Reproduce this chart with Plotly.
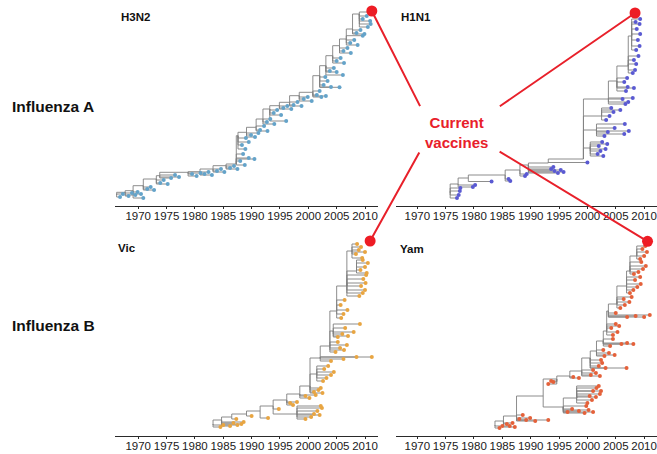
import plotly.graph_objects as go

# ---------------- data (years on x, vertical tip position on y) ----------------
tick_years = [1970, 1975, 1980, 1985, 1990, 1995, 2000, 2005, 2010]
tick_labels = ["1970", "1975", "1980", "1985", "1990", "1995", "2000", "2005", "2010"]

# H3N2
h3_node_year = [1966.2, 1967.7, 1969.1, 1970.9, 1973.2, 1973.8, 1978.8, 1980.9, 1983.2, 1985.5, 1987.3,
                1987.6, 1989.1, 1990.8, 1992.0, 1993.2, 1994.9, 1996.7, 1998.4, 2000.8, 2002.0, 2003.1,
                2004.3, 2005.5, 2006.7, 2007.8, 2009.0]
h3_node_pos = [11, 13.7, 15.3, 20.3, 27, 30.3, 33.7, 34.3, 37, 40.3, 42, 70.3, 73.7, 78.7, 87, 97, 100.3,
               103.7, 110.3, 113.7, 130.3, 140.3, 150.3, 160.3, 167, 177, 192]
h3_node_parent = [-1, 0, 1, 2, 3, 4, 5, 6, 7, 8, 9, 10, 11, 12, 13, 14, 15, 16, 17, 18, 19, 20, 21, 22, 23, 24, 25]
h3_tip_year = [1966.8, 1967.3,
               1968.3, 1968.9, 1969.5,
               1969.9, 1970.5, 1970.9,
               1971.6, 1972.2, 1972.8,
               1973.9, 1974.5, 1975.2,
               1975.8, 1976.5, 1977.2,
               1979.5, 1980.3, 1981.0,
               1981.7, 1982.4, 1983.0,
               1983.9, 1984.6, 1985.2,
               1986.2, 1986.9, 1987.5,
               1988.0, 1988.8, 1989.5, 1990.5, 1988.5,
               1988.3, 1988.9, 1989.5, 1989.0,
               1989.9, 1990.6, 1991.2,
               1991.5, 1992.2, 1992.8,
               1992.7, 1993.3, 1994.0,
               1993.9, 1994.5, 1995.2, 1996.1,
               1995.6, 1996.3, 1997.0,
               1997.4, 1998.1, 1998.8,
               1999.2, 1999.9, 2000.6,
               2001.5, 2002.3, 2003.1, 2002.0,
               2002.7, 2003.4, 2004.0, 2005.5, 2003.0,
               2003.8, 2004.5, 2006.1, 2005.0,
               2005.0, 2005.7, 2006.3,
               2006.2, 2006.9, 2007.5,
               2007.4, 2008.1, 2008.7, 2009.6,
               2008.5, 2009.2, 2009.9,
               2009.6, 2010.3, 2010.9, 2011.0, 2010.5, 2010.8]
h3_tip_pos = [9, 12,
              10, 13, 11,
              14, 12, 8,
              17, 19, 16,
              23, 26, 22,
              28, 31, 29,
              32, 30, 33,
              32, 34, 31,
              35, 37, 34,
              38, 40, 37,
              45, 41, 48, 47, 52,
              61, 57, 64, 68,
              71, 69, 73,
              76, 80, 75,
              84, 87, 82,
              93, 96, 91, 85,
              98, 100, 97,
              101, 104, 100,
              107, 109, 105,
              111, 109, 110, 115,
              121, 125, 119, 118.7, 129,
              135, 138, 131, 134,
              145, 148, 143,
              155, 158, 153,
              163, 166, 161, 170.3,
              173, 176, 172,
              187, 190, 185, 182, 179, 194]
h3_tip_parent = [0, 0,
                 1, 1, 1,
                 2, 2, 2,
                 3, 3, 3,
                 4, 4, 4,
                 5, 5, 5,
                 6, 6, 6,
                 7, 7, 7,
                 8, 8, 8,
                 9, 9, 9,
                 10, 10, 10, 10, 10,
                 11, 11, 11, 11,
                 12, 12, 12,
                 13, 13, 13,
                 14, 14, 14,
                 15, 15, 15, 15,
                 16, 16, 16,
                 17, 17, 17,
                 18, 18, 18,
                 19, 19, 19, 19,
                 20, 20, 20, 20, 20,
                 21, 21, 21, 21,
                 22, 22, 22,
                 23, 23, 23,
                 24, 24, 24, 24,
                 25, 25, 25,
                 26, 26, 26, 26, 26, 26]
h3_vaccine = (2011.2, 195)

# H1N1
h1_node_year = [1975.8, 1977.2, 1979.0, 1985.5, 1988.1, 1989.6, 1993.1, 1999.3, 2000.5, 2001.6, 2002.5,
                2003.7, 2005.2, 2007.2, 2007.8]
h1_node_pos = [13, 22, 28, 31, 36, 41, 43, 47, 58, 76, 90, 107, 125, 140, 170]
h1_node_parent = [-1, 0, 1, 2, 3, 4, 5, 6, 7, 7, 7, 7, 11, 12, 13]
h1_tip_year = [1977.0, 1977.3, 1977.5, 1977.6,
               1980.2, 1979.8,
               1983.1,
               1986.1, 1986.4,
               1989.0, 1989.3,
               1993.6, 1994.2, 1994.8, 1995.3, 1995.8, 1994.0,
               2000.0,
               2001.8, 2002.3, 2002.8, 2003.2, 2002.0, 2003.5, 2002.6,
               2003.0, 2003.6, 2004.8, 2006.6, 2007.3, 2006.5,
               2003.3, 2003.9, 2004.6, 2005.8, 2004.2,
               2006.2, 2008.0, 2006.7, 2007.2,
               2006.8, 2007.1, 2008.2, 2006.5, 2007.0,
               2008.0, 2008.4, 2008.6, 2008.2, 2009.0,
               2008.6, 2009.2, 2008.9, 2009.3, 2008.7, 2009.2, 2009.3, 2008.5]
h1_tip_pos = [8, 11, 15, 18,
              21, 19,
              24.5,
              27, 25,
              30, 32,
              37, 35, 33, 36, 34, 39,
              43.5,
              52, 55, 50, 57, 60, 62, 64,
              70, 74, 78, 82, 75, 72,
              86, 90, 94, 96, 98,
              107, 108, 102, 104,
              115, 119, 118, 124, 128,
              133, 136, 142, 146, 150,
              156, 160, 166, 172, 177, 182, 187, 184]
h1_tip_parent = [0, 0, 0, 0,
                 1, 1,
                 2,
                 3, 3,
                 4, 4,
                 5, 5, 5, 5, 5, 5,
                 6,
                 8, 8, 8, 8, 8, 8, 8,
                 9, 9, 9, 9, 9, 9,
                 10, 10, 10, 10, 10,
                 11, 11, 11, 11,
                 12, 12, 12, 12, 12,
                 13, 13, 13, 13, 13,
                 14, 14, 14, 14, 14, 14, 14, 14]
h1_vaccine = (2008.4, 193)

# B / Victoria
vic_node_year = [1983.2, 1984.7, 1986.5, 1989.1, 1991.5, 1993.8, 1996.2, 1998.0, 1998.5, 2000.3, 2001.5,
                 2002.1, 2003.8, 2004.4, 2005.0, 2006.8, 2007.7, 2008.5]
vic_node_pos = [12, 16, 19, 22, 25, 30, 36, 22, 42, 50, 62, 78, 90, 105, 125, 150, 185, 165]
vic_node_parent = [-1, 0, 1, 2, 3, 4, 5, 5, 6, 8, 9, 9, 11, 12, 12, 14, 15, 15]
vic_tip_year = [1984.5, 1985.0,
                1986.2, 1986.8, 1987.5, 1988.2, 1988.6,
                1987.3,
                1990.0,
                1992.9,
                1994.8,
                1996.8, 1997.3, 1998.0,
                2000.5, 2001.0, 2001.6, 2002.0, 2002.4, 2002.2, 1999.5,
                1999.5, 2000.2, 2001.3,
                2001.0, 2001.8, 2002.2, 2002.5,
                2002.6, 2003.2, 2004.0, 2004.5, 2002.8, 2003.5,
                2006.2, 2008.5, 2011.2, 2004.0,
                2004.8, 2005.6, 2006.3, 2006.8, 2005.2,
                2005.2, 2006.0, 2007.0, 2008.0, 2009.1, 2006.5,
                2005.8, 2006.2, 2006.9, 2005.7, 2006.4,
                2009.0, 2009.6, 2010.0, 2009.3, 2010.1, 2009.7, 2010.2,
                2009.2, 2010.0, 2010.5, 2009.6, 2010.3,
                2008.4, 2008.9, 2009.3, 2008.6, 2009.5, 2010.0]
vic_tip_pos = [9, 11,
               10, 13, 11, 12, 14,
               17,
               20,
               18,
               27,
               33, 31, 34,
               19, 22, 25, 21, 28, 30, 17,
               40, 38, 41,
               44, 46, 48, 43,
               55, 58, 61, 64, 67, 70,
               77, 79, 79, 75,
               84, 88, 86, 91, 94,
               99, 102, 100, 104, 112, 108,
               118, 122, 126, 131, 136,
               140, 143, 146, 150, 153, 157, 161,
               166, 169, 173, 176, 163,
               182, 186, 189, 192, 178, 184]
vic_tip_parent = [0, 0,
                  1, 1, 1, 1, 1,
                  2,
                  3,
                  4,
                  5,
                  6, 6, 6,
                  7, 7, 7, 7, 7, 7, 7,
                  8, 8, 8,
                  9, 9, 9, 9,
                  10, 10, 10, 10, 10, 10,
                  11, 11, 11, 11,
                  12, 12, 12, 12, 12,
                  13, 13, 13, 13, 13, 13,
                  14, 14, 14, 14, 14,
                  15, 15, 15, 15, 15, 15, 15,
                  17, 17, 17, 17, 17,
                  16, 16, 16, 16, 16, 16]
vic_vaccine = (2010.9, 195)

# B / Yamagata
yam_node_year = [1983.7, 1985.2, 1987.5, 1992.2, 1995.75, 1998.1, 1994.6, 1996.9, 1999.0, 2000.5, 2001.6,
                 2002.8, 2003.4, 2003.7, 2005.2, 2006.9, 2007.5, 2008.7]
yam_node_pos = [11, 15, 20, 40, 29, 38, 57, 60, 65, 78, 85, 95, 105, 125, 132, 150, 165, 180]
yam_node_parent = [-1, 0, 1, 2, 3, 4, 3, 6, 7, 8, 9, 10, 11, 12, 13, 14, 15, 16]
yam_tip_year = [1984.5, 1985.0,
                1985.8, 1986.3, 1986.8, 1987.2,
                1988.0, 1989.2, 1989.9, 1990.8, 1993.1, 1988.6,
                1996.5, 1997.3, 1998.5, 1999.5, 2000.2, 2001.0, 1999.8,
                2000.0, 2000.8, 2001.5, 2002.2, 2001.0, 2001.6, 2002.0, 2002.4, 2000.4,
                1993.1, 1994.0, 1993.6,
                1998.5, 1997.5,
                2000.6, 2001.5, 2002.2, 2001.0,
                2002.0, 2002.6, 2003.2, 2006.9, 2002.4,
                2003.0, 2003.8, 2004.8, 2002.8,
                2006.0, 2007.0, 2008.1, 2004.0, 2004.5,
                2004.5, 2005.3, 2004.2, 2005.0, 2005.6,
                2007.0, 2008.5, 2011.0, 2010.0, 2005.0,
                2005.8, 2006.6, 2007.4, 2006.4, 2007.8,
                2007.5, 2008.1, 2008.8, 2009.4, 2008.4, 2009.3,
                2008.2, 2009.0, 2009.8, 2010.3, 2009.5,
                2009.3, 2010.0, 2010.5, 2009.7, 2010.2]
yam_tip_pos = [8, 10,
               12, 10, 13, 9,
               17, 16, 18, 15, 16, 21,
               24, 27, 25, 23, 26, 24, 30,
               33, 36, 39, 42, 45, 48, 50, 45, 40,
               52, 54, 55,
               58, 59,
               61, 63, 60, 66,
               70, 73, 68, 68, 76,
               80, 83, 81, 86,
               92, 93, 92, 90, 97,
               101, 104, 108, 112, 110,
               119, 120, 121, 119, 123,
               128, 131, 134, 137, 139,
               143, 146, 149, 152, 156, 159,
               162, 164, 167, 170, 174,
               177, 180, 184, 187, 190]
yam_tip_parent = [0, 0,
                  1, 1, 1, 1,
                  2, 2, 2, 2, 2, 2,
                  4, 4, 4, 4, 4, 4, 4,
                  5, 5, 5, 5, 5, 5, 5, 5, 5,
                  6, 6, 6,
                  7, 7,
                  8, 8, 8, 8,
                  9, 9, 9, 9, 9,
                  10, 10, 10, 10,
                  11, 11, 11, 11, 11,
                  12, 12, 12, 12, 12,
                  13, 13, 13, 13, 13,
                  14, 14, 14, 14, 14,
                  15, 15, 15, 15, 15, 15,
                  16, 16, 16, 16, 16,
                  17, 17, 17, 17, 17]
yam_vaccine = (2010.6, 194.7)

panel_names = ["H3N2", "H1N1", "Vic", "Yam"]
tip_colors = ["#64a3c9", "#5a5ad2", "#e8a542", "#e4613a"]

# ---------------- figure ----------------
W, H = 657, 454
FONT = "Liberation Sans, Arial, Helvetica, sans-serif"


def tree_lines(ny, npos, npar, ty, tpos, tpar):
    xs, ys = [], []
    for i, p in enumerate(npar):
        if p < 0:
            continue
        xs += [ny[p], ny[p], ny[i], None]
        ys += [npos[p], npos[i], npos[i], None]
    for i, p in enumerate(tpar):
        xs += [ny[p], ny[p], ty[i], None]
        ys += [npos[p], tpos[i], tpos[i], None]
    return xs, ys


trees = [
    (h3_node_year, h3_node_pos, h3_node_parent, h3_tip_year, h3_tip_pos, h3_tip_parent, h3_vaccine),
    (h1_node_year, h1_node_pos, h1_node_parent, h1_tip_year, h1_tip_pos, h1_tip_parent, h1_vaccine),
    (vic_node_year, vic_node_pos, vic_node_parent, vic_tip_year, vic_tip_pos, vic_tip_parent, vic_vaccine),
    (yam_node_year, yam_node_pos, yam_node_parent, yam_tip_year, yam_tip_pos, yam_tip_parent, yam_vaccine),
]
axis_ids = ["", "2", "3", "4"]

fig = go.Figure()
for k, (ny, npos, npar, ty, tpos, tpar, vac) in enumerate(trees):
    xa, ya = "x" + axis_ids[k], "y" + axis_ids[k]
    lx, ly = tree_lines(ny, npos, npar, ty, tpos, tpar)
    fig.add_trace(go.Scatter(x=lx, y=ly, mode="lines", xaxis=xa, yaxis=ya,
                             line=dict(color="#808080", width=0.9), hoverinfo="skip",
                             showlegend=False, cliponaxis=False))
    fig.add_trace(go.Scatter(x=ty, y=tpos, mode="markers", xaxis=xa, yaxis=ya,
                             marker=dict(color=tip_colors[k], size=4.0, line=dict(width=0)),
                             showlegend=False, cliponaxis=False))
    fig.add_trace(go.Scatter(x=[vac[0]], y=[vac[1]], mode="markers", xaxis=xa, yaxis=ya,
                             marker=dict(color="#ee1c24", size=11, line=dict(width=0)),
                             showlegend=False, cliponaxis=False))

left_dom = [115 / W, 378 / W]
right_dom = [395.5 / W, 1.0]
top_dom = [1 - 206 / H, 1 - 6 / H]
bot_dom = [1 - 436 / H, 1 - 236 / H]
left_rng = [1965.91, 2012.29]
right_rng = [1966.16, 2012.27]

xcommon = dict(tickmode="array", tickvals=tick_years, ticktext=tick_labels, showline=True,
               linecolor="#2a2a2a", linewidth=1.4, ticks="outside", ticklen=2, tickwidth=1.4,
               tickcolor="#2a2a2a", showgrid=False, zeroline=False, ticklabelstandoff=-3,
               tickfont=dict(family=FONT, size=11.5, color="#1a1a1a"), fixedrange=True)
ycommon = dict(visible=False, range=[0, 200], showgrid=False, zeroline=False, fixedrange=True)

fig.update_layout(
    width=W, height=H, margin=dict(l=0, r=0, t=0, b=0),
    paper_bgcolor="white", plot_bgcolor="white", showlegend=False,
    xaxis=dict(domain=left_dom, range=left_rng, anchor="y", **xcommon),
    yaxis=dict(domain=top_dom, anchor="x", **ycommon),
    xaxis2=dict(domain=right_dom, range=right_rng, anchor="y2", **xcommon),
    yaxis2=dict(domain=top_dom, anchor="x2", **ycommon),
    xaxis3=dict(domain=left_dom, range=left_rng, anchor="y3", **xcommon),
    yaxis3=dict(domain=bot_dom, anchor="x3", **ycommon),
    xaxis4=dict(domain=right_dom, range=right_rng, anchor="y4", **xcommon),
    yaxis4=dict(domain=bot_dom, anchor="x4", **ycommon),
)


def px(x):
    return x / W


def py(y):
    return 1 - y / H


annos = []
# panel titles
title_pos = [(119, 17), (399, 17), (116, 248), (398, 249)]
for name, (tx, tyy) in zip(panel_names, title_pos):
    annos.append(dict(text="<b>%s</b>" % name, x=px(tx), y=py(tyy), xref="paper", yref="paper",
                      xanchor="left", yanchor="middle", showarrow=False,
                      font=dict(family=FONT, size=11.5, color="#111111")))
# group labels
annos.append(dict(text="<b>Influenza A</b>", x=px(10), y=py(106), xref="paper", yref="paper",
                  xanchor="left", yanchor="middle", showarrow=False,
                  font=dict(family=FONT, size=15.5, color="#111111")))
annos.append(dict(text="<b>Influenza B</b>", x=px(10), y=py(325), xref="paper", yref="paper",
                  xanchor="left", yanchor="middle", showarrow=False,
                  font=dict(family=FONT, size=15.5, color="#111111")))
annos.append(dict(text="<b>Current<br>vaccines</b>", x=px(456), y=py(133), xref="paper", yref="paper",
                  xanchor="center", yanchor="middle", showarrow=False,
                  font=dict(family=FONT, size=15, color="#e8202a")))
# red connector lines from each vaccine dot
offsets = [(49, 96.6), (-136.7, 94.3), (50, -90), (-149.4, -90.6)]
for k, (ny, npos, npar, ty, tpos, tpar, vac) in enumerate(trees):
    annos.append(dict(text="", x=vac[0], y=vac[1], xref="x" + axis_ids[k], yref="y" + axis_ids[k],
                      showarrow=True, arrowhead=0, arrowwidth=2, arrowcolor="#e8202a",
                      ax=offsets[k][0], ay=offsets[k][1], standoff=0, startstandoff=0))
fig.update_layout(annotations=annos)

fig.write_html("out.html")
